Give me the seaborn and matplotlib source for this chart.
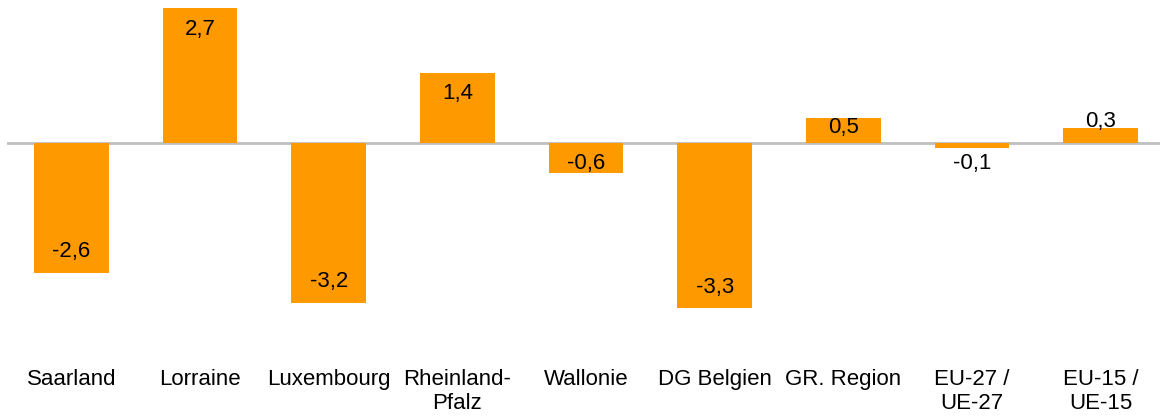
import matplotlib
matplotlib.use("Agg")
import matplotlib.pyplot as plt
import pandas as pd
import seaborn as sns

regions = ["Saarland", "Lorraine", "Luxembourg", "Rheinland-\nPfalz", "Wallonie",
           "DG Belgien", "GR. Region", "EU-27 /\nUE-27", "EU-15 /\nUE-15"]
values = [-2.6, 2.7, -3.2, 1.4, -0.6, -3.3, 0.5, -0.1, 0.3]
value_labels = ["-2,6", "2,7", "-3,2", "1,4", "-0,6", "-3,3", "0,5", "-0,1", "0,3"]

df = pd.DataFrame({"region": regions, "value": values})

sns.set_theme(style="white")
plt.rcParams["font.family"] = ["Liberation Sans", "DejaVu Sans"]

W, H = 1160, 417
fig = plt.figure(figsize=(W / 100, H / 100), dpi=100)
# axes placed in pixels: 50 px per unit, zero line at y=143 px
px_unit = 50
zero_px = 143
ax_bottom_px = 365
ax_left_px, ax_right_px = 7, 1165
ax = fig.add_axes([ax_left_px / W, 1 - ax_bottom_px / H,
                   (ax_right_px - ax_left_px) / W, ax_bottom_px / H])

sns.barplot(data=df, x="region", y="value", color="#FF9900", saturation=1,
            width=0.58, linewidth=0, edgecolor="none", ax=ax)

ax.set_xlim(-0.5, len(regions) - 0.5)
ax.set_ylim(-(ax_bottom_px - zero_px) / px_unit, zero_px / px_unit)
ax.axhline(0, color="#BFBFBF", lw=2, zorder=0.5)

for s in ax.spines.values():
    s.set_visible(False)
ax.set_yticks([])
ax.set_xlabel("")
ax.set_ylabel("")
ax.tick_params(axis="x", length=0, pad=3, labelsize=16, colors="#000000")
for t in ax.get_xticklabels():
    t.set_linespacing(1.15)

# value labels near the bar end: inside for tall bars, pushed out for tiny ones
for i, (v, lab) in enumerate(zip(values, value_labels)):
    h = abs(v) * px_unit
    if h >= 40:
        off = 21
    elif h >= 20:
        off = 9
    else:
        off = max(h - 22, -15)
    sign = 1 if v >= 0 else -1
    ax.annotate(lab, xy=(i, v), xytext=(0, -sign * off * 0.72),
                textcoords="offset points", ha="center", va="center",
                fontsize=16, color="#000000")

fig.savefig("out.png", dpi=100)
